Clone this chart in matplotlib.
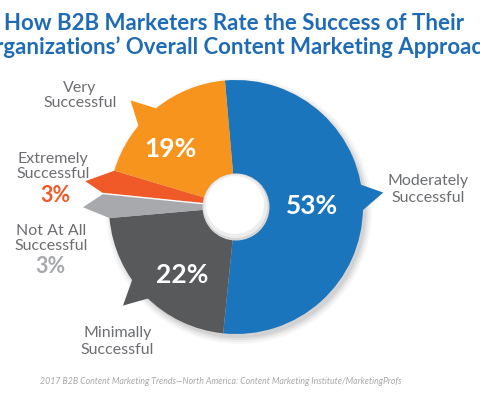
import numpy as np
import matplotlib
matplotlib.use('Agg')
import matplotlib.pyplot as plt
from matplotlib.patches import Polygon, Circle

# ---- data ----
categories = ['Moderately Successful', 'Minimally Successful', 'Not At All Successful',
              'Extremely Successful', 'Very Successful']
values = [53, 22, 3, 3, 19]
colors = ['#1b75bc', '#58595b', '#a7a9ac', '#ef5a28', '#f7941d']
title_lines = ['How B2B Marketers Rate the Success of Their',
               'Organizations\u2019 Overall Content Marketing Approach']
source = '2017 B2B Content Marketing Trends\u2014North America: Content Marketing Institute/MarketingProfs'

FONT = 'Lato'
W, H = 480, 396
fig = plt.figure(figsize=(W / 100, H / 100), dpi=100)
ax = fig.add_axes([0, 0, 1, 1])

cx, cy = 236, H - 207
R, r_in = 127, 33
start = 95

# soft drop shadow
for k, a in [(6, 0.03), (4, 0.04), (2, 0.05), (0, 0.06)]:
    ax.add_patch(Circle((cx + 3, cy - 4), R + k, facecolor='#000000', alpha=a,
                        edgecolor='none', zorder=0.5))

wedges, _ = ax.pie(values, colors=colors, startangle=start, counterclock=False,
                   center=(cx, cy), radius=R, frame=True,
                   wedgeprops=dict(width=R - r_in, edgecolor='none', zorder=1))


def pt(ang, r):
    t = np.deg2rad(ang)
    return (cx + r * np.cos(t), cy + r * np.sin(t))


def tail(w, base1, base2, tip_ang, tip_r, color):
    poly = [pt(base1, R - 3), pt(base1, R), pt(tip_ang, tip_r), pt(base2, R), pt(base2, R - 3)]
    ax.add_patch(Polygon(poly, closed=True, facecolor=color, edgecolor='none', zorder=2))


w_blue, w_dgray, w_lgray, w_red, w_orange = wedges
mid = lambda w: (w.theta1 + w.theta2) / 2

# callout tails
m = mid(w_blue)
tail(w_blue, m - 1, m + 10.5, m + 6, 148, colors[0])
m = mid(w_dgray)
tail(w_dgray, m - 9.5, m + 1.5, m - 3.5, 150, colors[1])
m = mid(w_orange)
tail(w_orange, m - 0.2, m + 11, m + 5.5, 150, colors[4])

# red / light gray tails (whole wedge turned into a pointer)
b = w_red.theta2  # red / light gray boundary
red_tip = pt(mid(w_red) + 1.5, 153)
gray_tip = pt(mid(w_lgray) + 0.5, 153)
ax.add_patch(Polygon([pt(w_red.theta1, R - 2), pt(w_red.theta1, R), red_tip,
                      pt(b, R + 6), pt(b, R - 2)],
                     closed=True, facecolor=colors[3], edgecolor='none', zorder=2))
ax.add_patch(Polygon([pt(b, R - 2), pt(b, R + 6), gray_tip,
                      pt(w_lgray.theta2, R), pt(w_lgray.theta2, R - 2)],
                     closed=True, facecolor=colors[2], edgecolor='none', zorder=2))
ax.plot([pt(b, r_in)[0], pt(b, R + 7)[0]], [pt(b, r_in)[1], pt(b, R + 7)[1]],
        color='white', lw=1.0, zorder=3, solid_capstyle='butt')

# hole with soft shading
ax.add_patch(Circle((cx, cy), r_in + 0.5, facecolor='#d6d6d6', edgecolor='none', zorder=4))
ax.add_patch(Circle((cx - 0.5, cy + 1.0), r_in - 1.0, facecolor='#ededed', edgecolor='none', zorder=4))
ax.add_patch(Circle((cx - 1.0, cy + 2.0), r_in - 4.0, facecolor='#ffffff', edgecolor='none', zorder=4))

ax.set_xlim(0, W)
ax.set_ylim(0, H)
ax.set_aspect('auto')
ax.axis('off')


def T(x, y, s, **kw):
    kw.setdefault('family', FONT)
    kw.setdefault('ha', 'center')
    kw.setdefault('va', 'baseline')
    ax.text(x, H - y, s, **kw)


# title (the reference crops the second line at both edges)
T(234, 30, title_lines[0], fontsize=16, fontweight='bold', color='#1f6cb4')
T(236, 54, title_lines[1], fontsize=16, fontweight='bold', color='#1f6cb4')

lab = dict(fontsize=11.5, color='#6d6e71')
# Very Successful
T(80, 92, 'Very', **lab)
T(80, 107, 'Successful', **lab)
# Extremely Successful
T(53, 163, 'Extremely', **lab)
T(53, 178, 'Successful', **lab)
T(55, 202, '3%', fontsize=15.5, fontweight='bold', color=colors[3])
# Not At All Successful
T(51, 235, 'Not At All', **lab)
T(51, 250, 'Successful', **lab)
T(50, 273, '3%', fontsize=15.5, fontweight='bold', color=colors[2])
# Minimally Successful
T(118, 337, 'Minimally', **lab)
T(117, 354, 'Successful', **lab)
# Moderately Successful
T(428, 185, 'Moderately', **lab)
T(428, 202, 'Successful', **lab)

# white percentages inside
pct = dict(fontsize=19, fontweight='bold', color='white')
T(170, 157, f'{values[4]}%', **pct)
T(312, 214, f'{values[0]}%', **pct)
T(182, 283, f'{values[1]}%', **pct)

# source
T(221, 384, source, fontsize=6.3, style='italic', color='#a8a8a8')

fig.savefig('out.png', dpi=100)
